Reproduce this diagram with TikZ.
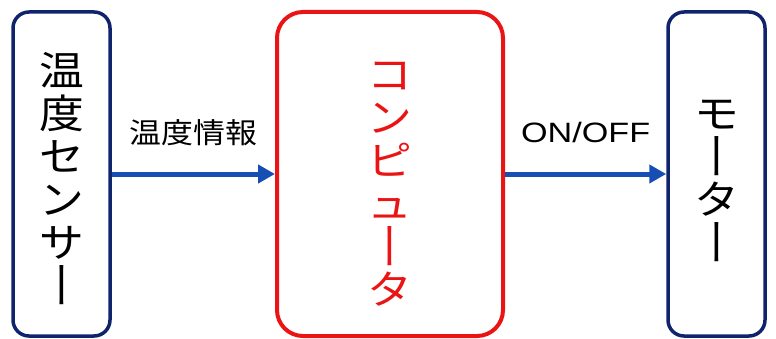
\documentclass[tikz,border=0pt]{standalone}
\usepackage{fontspec}
\usepackage{graphicx}
\newfontfamily\jpfont[FakeStretch=1.12]{Noto Sans CJK JP}
\newfontfamily\latfont[FakeStretch=1.22]{Liberation Sans}
\usetikzlibrary{positioning,arrows.meta}
\definecolor{bordoblu}{RGB}{16,36,110}
\definecolor{bordorosso}{RGB}{235,20,20}
\definecolor{freccia}{RGB}{22,78,180}
\newcommand{\allungo}{\rotatebox[origin=c]{-90}{\scalebox{1.1}[1]{ー}\vphantom{温}}}
\newcommand{\alto}{\rule{0pt}{47pt}}
\begin{document}
\begin{tikzpicture}[x=1pt,y=1pt,
    scatola/.style={draw=bordoblu, line width=3.5pt, rounded corners=16pt,
      minimum width=97pt, minimum height=324pt, inner sep=0pt, align=center,
      font=\jpfont\fontsize{40}{43}\selectfont},
    collega/.style={freccia, line width=5pt, -{Triangle[length=17pt,width=18pt]}},
    etichetta/.style={inner sep=0pt, text=black}]
    \useasboundingbox (0,0) rectangle (776,338);

    % Disegna i blocchi
    \node[scatola] (sensore) at (61.5,164) {\alto 温\\度\\セ\\ン\\サ\\\allungo};
    \node[scatola, draw=bordorosso, line width=4pt, rounded corners=26pt,
      minimum width=226pt, text=bordorosso] (computer) at (390,164)
      {\alto コ\\ン\\ピ\\ュ\\\allungo\\タ};
    \node[scatola] (motore) at (716.5,164) {\alto モ\\\allungo\\タ\\\allungo};

    % Disegna le frecce
    \draw[collega] (sensore.east) -- (computer.west)
      node[etichetta, midway, above=26pt, font=\jpfont\fontsize{28.5}{32}\selectfont] (info) {温度情報};
    \draw[collega] (computer.east) -- (motore.west)
      node[etichetta, midway, above=29pt, font=\latfont\fontsize{28}{32}\selectfont] (comando) {ON/OFF};
\end{tikzpicture}
\end{document}
